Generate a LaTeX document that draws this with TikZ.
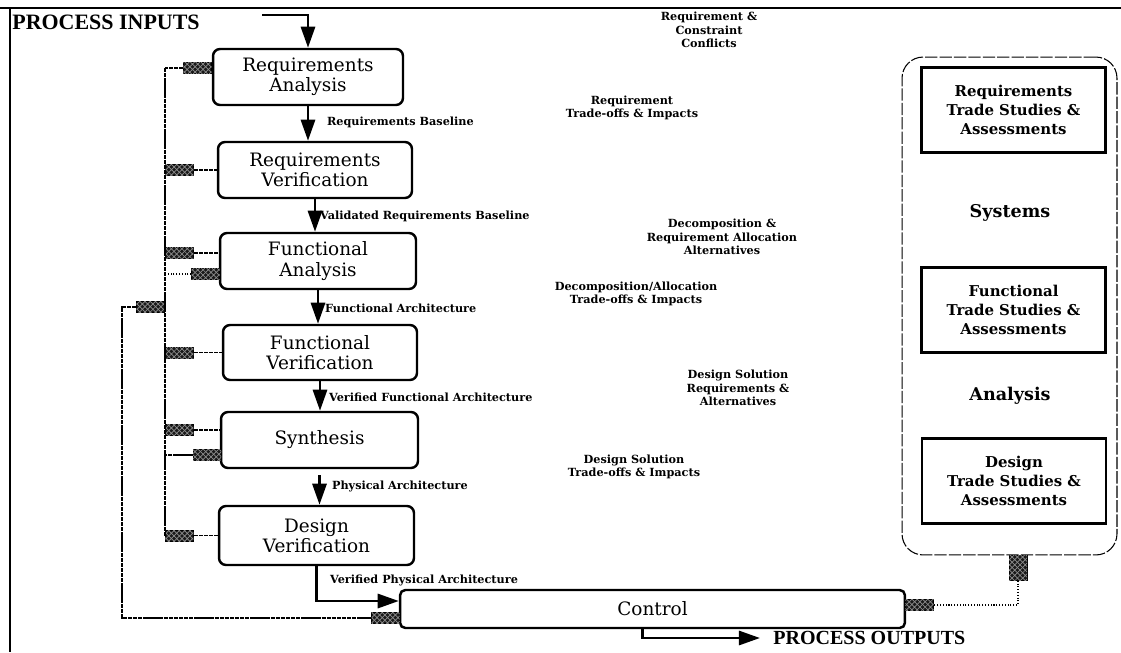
\documentclass[tikz,border=0pt]{standalone}
\usepackage{fontspec}
\setmainfont{DejaVu Serif}
\newfontfamily\titlefont{Liberation Serif}
\usetikzlibrary{arrows.meta,patterns}

\begin{document}
\begin{tikzpicture}
[
x=0.02cm, y=-0.02cm,
stage/.style={
% The shape:
rectangle, rounded corners=4pt,
% The size:
minimum width=3.9cm,
minimum height=1.12cm,
% The border:
line width=1.4pt, draw=black,
% The text:
align=center, inner sep=0pt,
font=\fontsize{10.5}{11.5}\selectfont
},
study/.style={
% The shape:
rectangle,
% The size:
minimum width=3.68cm,
minimum height=1.7cm,
% The border:
line width=1.3pt, draw=black,
% The text:
align=center,
font=\fontsize{8.5}{11}\selectfont\bfseries
},
panel/.style={
% The shape:
rectangle, rounded corners=12pt,
% The size:
minimum width=4.3cm,
minimum height=9.96cm,
% The border:
line width=0.6pt, draw=black, dash pattern=on 7pt off 1.2pt
},
hatch/.style={
% The shape:
rectangle, inner sep=0pt,
% The size:
minimum width=0.56cm,
minimum height=0.22cm,
% The border:
line width=0.4pt, draw=black,
% The filling:
fill=black!90, % dark block
postaction={pattern=crosshatch, pattern color=black!45} % with light hatching
},
lbl/.style={font=\fontsize{6.4}{7.6}\selectfont\bfseries, inner sep=1pt},
note/.style={lbl, align=center},
big/.style={font=\fontsize{10}{12}\selectfont\bfseries},
flow/.style={line width=1.6pt, -{Triangle[width=8pt,length=12pt]}},
fbline/.style={line width=0.6pt, dash pattern=on 2.5pt off 0.4pt},
fbdot/.style={line width=0.6pt, densely dotted}
]
    \useasboundingbox (0,0) rectangle (1121,652);
    % frame
    \draw[line width=0.8pt] (0,8) -- (1121,8);
    \draw[line width=0.8pt] (10,8) -- (10,652);

    \node[anchor=west, inner sep=0pt, font={\titlefont\bfseries\fontsize{12.5}{14}\selectfont}] (pin) at (12,22) {PROCESS INPUTS};
    \node[anchor=west, inner sep=0pt, font={\titlefont\bfseries\fontsize{11.4}{14}\selectfont}] (pout) at (773,638) {PROCESS OUTPUTS};

    % process steps
    \node[stage, minimum width=3.8cm] (ra) at (308,77) {Requirements\\Analysis};
    \node[stage, minimum width=3.88cm] (rv) at (315,170) {Requirements\\Verification};
    \node[stage, minimum width=3.92cm] (fa) at (318,261) {Functional\\Analysis};
    \node[stage, minimum width=3.88cm, minimum height=1.1cm] (fv) at (320,352.5) {Functional\\Verification};
    \node[stage, minimum width=3.94cm] (syn) at (319.5,440) {Synthesis};
    \node[stage, minimum width=3.9cm, minimum height=1.18cm] (dv) at (316.5,535.5) {Design\\Verification};
    \node[stage, minimum width=10.1cm, minimum height=0.76cm, rounded corners=3pt] (control) at (652.5,609) {Control};

    % trade studies
    \node[panel] (tsbox) at (1009.5,306) {};
    \node[study] (rts) at (1013.5,110) {Requirements\\Trade Studies \&\\Assessments};
    \node[study] (fts) at (1013.5,310) {Functional\\Trade Studies \&\\Assessments};
    \node[study] (dts) at (1014,481) {Design\\Trade Studies \&\\Assessments};
    \node[big] (sys) at (1010,213) {Systems};
    \node[big] (ana) at (1010,396) {Analysis};

    % feedback notes
    \node[note] (n1) at (709,30) {Requirement \&\\Constraint\\Conflicts};
    \node[note] (n2) at (632,108) {Requirement\\Trade-offs \& Impacts};
    \node[note] (n3) at (722,237) {Decomposition \&\\Requirement Allocation\\Alternatives};
    \node[note] (n4) at (636,294) {Decomposition/Allocation\\Trade-offs \& Impacts};
    \node[note] (n5) at (738,388) {Design Solution\\Requirements \&\\Alternatives};
    \node[note] (n6) at (634,467) {Design Solution\\Trade-offs \& Impacts};

    % main flow
    \coordinate (inp) at (262,15);
    \draw[flow] (inp) -| (ra.north);
    \draw[flow] (ra.south) -- (ra.south |- rv.north);
    \draw[flow] (rv.south) -- (rv.south |- fa.north);
    \draw[flow] (fa.south) -- (fa.south |- fv.north);
    \draw[flow] (fv.south) -- (fv.south |- syn.north);
    \draw[flow, shorten <=0.12cm] (syn.south) -- (syn.south |- dv.north);
    \draw[flow] (dv.south) |- ([yshift=0.16cm]control.west);
    \draw[flow, shorten >=0.26cm] ([xshift=-0.2cm]control.south) |- (pout.west);

    \node[lbl, anchor=west] (l1) at (325,122) {Requirements Baseline};
    \node[lbl, anchor=west] (l2) at (318,216) {Validated Requirements Baseline};
    \node[lbl, anchor=west] (l3) at (323,308) {Functional Architecture};
    \node[lbl, anchor=west] (l4) at (327,397) {Verified Functional Architecture};
    \node[lbl, anchor=west] (l5) at (330,486) {Physical Architecture};
    \node[lbl, anchor=west] (l6) at (328,580) {Verified Physical Architecture};

    % feedback bus
    \coordinate (bustop) at (165,68);
    \coordinate (busbot) at (165,536);
    \coordinate (loopturn) at (122,618);
    \node[hatch, anchor=east] (hra) at (ra.west |- bustop) {};
    \node[hatch, anchor=west] (hrv) at (bustop |- rv.west) {};
    \node[hatch, anchor=west] (hfa1) at (165,253) {};
    \node[hatch, anchor=east] (hfa2) at (220,274) {};
    \node[hatch, anchor=east] (hout) at (165,307) {};
    \node[hatch, anchor=west] (hfv) at (bustop |- fv.west) {};
    \node[hatch, anchor=west] (hsy1) at (165,430) {};
    \node[hatch, anchor=east] (hsy2) at (221.5,455) {};
    \node[hatch, anchor=west] (hdv) at (bustop |- dv.west) {};
    \node[hatch, anchor=east] (hctl) at (400,618) {};
    \node[hatch, anchor=north, minimum width=0.36cm, minimum height=0.5cm] (hts) at (1018,555) {};
    \node[hatch, anchor=west] (hctr) at (905,605) {};

    \draw[fbline] (bustop) -- (busbot);
    \draw[fbline] (hra.west) -- (bustop);
    \draw[fbline] (hrv.east) -- (rv.west);
    \draw[fbline] (hfa1.east) -- (hfa1.east -| fa.west);
    \draw[fbdot] (hfa2.west) -- (hfa2.west -| bustop);
    \draw[fbline] (hout.west) -| (loopturn) -- (hctl.west);
    \draw[fbline] (hfv.east) -- (fv.west);
    \draw[fbline] (hsy1.east) -- (hsy1.east -| syn.west);
    \draw[fbline] (hsy2.west) -- (hsy2.west -| bustop);
    \draw[fbline] (hdv.east) -- (dv.west);
    \draw[fbdot] (hts.south) |- (hctr.east);
\end{tikzpicture}
\end{document}
